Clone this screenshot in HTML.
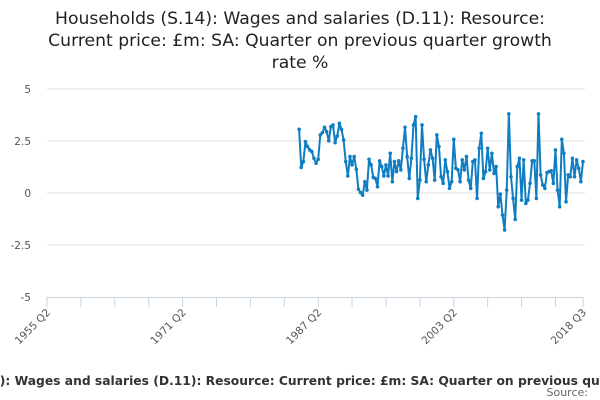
<!DOCTYPE html>
<html><head><meta charset="utf-8"><style>
html,body{margin:0;padding:0;background:#fff;}
svg{display:block;font-family:"DejaVu Sans","Liberation Sans",sans-serif;}
</style></head><body>
<svg id="chart" width="600" height="400" viewBox="0 0 600 400">
<g fill="#222" font-size="17.2" text-anchor="middle">
<text x="300" y="24">Households (S.14): Wages and salaries (D.11): Resource:</text>
<text x="300" y="46">Current price: £m: SA: Quarter on previous quarter growth</text>
<text x="300" y="68">rate %</text>
</g>
<g id="grid"></g>
<g id="yaxis"></g>
<g id="xaxis"></g>
<g id="series"></g>
<text x="308" y="385" text-anchor="middle" font-size="12.3" font-weight="bold" fill="#333">Households (S.14): Wages and salaries (D.11): Resource: Current price: £m: SA: Quarter on previous quarter growth rate %</text>
<text x="588" y="396" text-anchor="end" font-size="11" fill="#666">Source:</text>
</svg>
<script>
const yTicks = [5, 2.5, 0, -2.5, -5];
const yTickLabels = ["5", "2.5", "0", "-2.5", "-5"];
const xTickLabels = ["1955 Q2", "1971 Q2", "1987 Q2", "2003 Q2", "2018 Q3"];
const xTickQuarters = [0, 64, 128, 192, 253];
const values = [3.06,1.23,1.51,2.47,2.23,2.07,1.99,1.67,1.43,1.62,2.79,2.90,3.16,2.95,2.51,3.19,3.27,2.42,2.74,3.35,3.06,2.55,1.51,0.82,1.75,1.35,1.75,1.14,0.18,0.02,-0.10,0.54,0.14,1.62,1.35,0.75,0.70,0.30,1.54,1.27,0.82,1.35,0.82,1.91,0.54,1.51,1.03,1.55,1.11,2.15,3.16,1.75,0.70,1.67,3.27,3.67,-0.26,0.62,3.27,1.62,0.54,1.35,2.07,1.67,0.62,2.79,2.23,0.78,0.46,1.59,1.03,0.22,0.54,2.58,1.19,1.11,0.54,1.59,1.11,1.75,0.62,0.22,1.51,1.59,-0.26,2.15,2.87,0.70,1.03,2.15,1.11,1.91,0.94,1.27,-0.66,-0.05,-1.06,-1.78,0.14,3.80,0.78,-0.26,-1.27,1.27,1.67,-0.34,1.59,-0.50,-0.34,0.46,1.55,1.55,-0.26,3.80,0.87,0.38,0.22,0.98,1.03,1.07,0.46,2.07,0.14,-0.66,2.58,1.91,-0.42,0.87,0.78,1.67,0.78,1.59,1.19,0.54,1.51];
const NS="http://www.w3.org/2000/svg";
const X0=47, X1=583, Q=253, Y0=193, PXU=20.8;
const x=q=>X0+(X1-X0)*q/Q;
const y=v=>Y0-v*PXU;
function mk(tag,attrs,parent){const e=document.createElementNS(NS,tag);for(const k in attrs)e.setAttribute(k,attrs[k]);parent.appendChild(e);return e;}
const grid=document.getElementById('grid'),ya=document.getElementById('yaxis'),xa=document.getElementById('xaxis'),ser=document.getElementById('series');
yTicks.forEach((t,i)=>{
  if(t!==-5){const l=mk('line',{x1:X0,x2:X1+2,y1:y(t),y2:y(t),stroke:'#e0e0e0','stroke-width':1},grid);
  
  }
  const tx=mk('text',{x:31,y:y(t)+4,'text-anchor':'end','font-size':10.5,fill:'#555'},ya);
  tx.textContent=yTickLabels[i];
  
  
});
const ax=mk('line',{x1:X0,x2:X1,y1:y(-5)+0.5,y2:y(-5)+0.5,stroke:'#c8d3e0','stroke-width':1},xa);


for(let q=0;q<=Q;q+=16){
  const tk=mk('line',{x1:x(q),x2:x(q),y1:y(-5),y2:y(-5)+10,stroke:'#c8d3e0'},xa);
  
  
}
const tkEnd=mk('line',{x1:x(Q),x2:x(Q),y1:y(-5),y2:y(-5)+10,stroke:'#c8d3e0'},xa);


xTickLabels.forEach((lab,i)=>{
  const px=x(xTickQuarters[i])+4, py=y(-5)+16;
  const tx=mk('text',{x:px,y:py,'text-anchor':'end','font-size':10.5,fill:'#555',transform:`rotate(-45 ${px} ${py})`},xa);
  tx.textContent=lab;
  
  
});
const start=Q-(values.length-1);
const pts=values.map((v,i)=>[x(start+i),y(v)]);
const pl=mk('polyline',{points:pts.map(p=>p.join(',')).join(' '),fill:'none',stroke:'#0f7dc2','stroke-width':2,'stroke-linejoin':'round'},ser);


pts.forEach(p=>{
  const c=mk('circle',{cx:p[0],cy:p[1],r:1.8,fill:'#0f7dc2'},ser);
  
  
});
</script>
</body></html>
